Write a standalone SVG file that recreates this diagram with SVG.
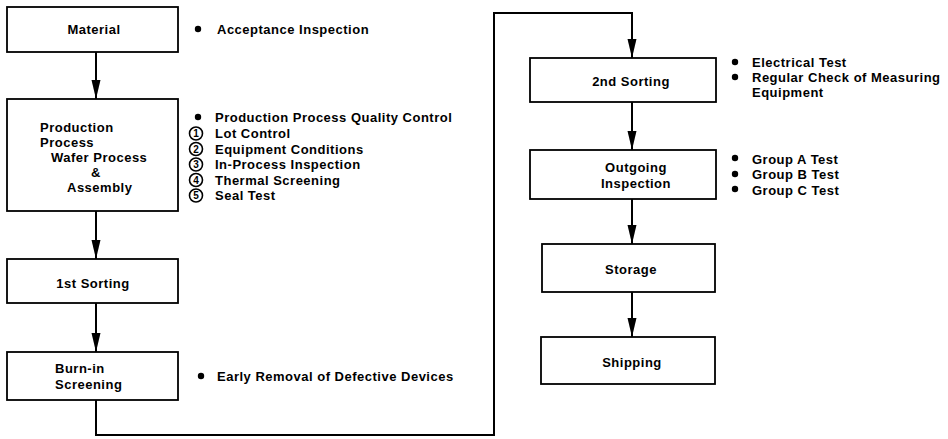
<svg xmlns="http://www.w3.org/2000/svg" width="948" height="439" viewBox="0 0 948 439">
<style>
.box{fill:#fff;stroke:#000;stroke-width:1.8}
text{font-family:"Liberation Sans",Arial,sans-serif;font-weight:bold;font-size:13px;letter-spacing:0.5px;fill:#000}
.c{text-anchor:middle}
.ring{fill:#fff;stroke:#000;stroke-width:1.6}
.num{font-size:10px;letter-spacing:0;text-anchor:middle}
.wire{fill:none;stroke:#000;stroke-width:2}
</style>
<defs>
<marker id="ah" markerUnits="userSpaceOnUse" markerWidth="20" markerHeight="10" viewBox="0 -5 20 10" refX="19" refY="0" orient="auto">
<path d="M0,-4.5 L19,0 L0,4.5 z" fill="#000"/>
</marker>
</defs>
<rect width="948" height="439" fill="#fff"/>
<g id="connectors">
<line class="wire" x1="96" y1="52" x2="96" y2="99" marker-end="url(#ah)"/>
<line class="wire" x1="96" y1="211" x2="96" y2="259" marker-end="url(#ah)"/>
<line class="wire" x1="96" y1="303" x2="96" y2="352" marker-end="url(#ah)"/>
<polyline class="wire" points="96,400 96,435 494,435 494,13 632,13 632,58" marker-end="url(#ah)"/>
<line class="wire" x1="632" y1="102" x2="632" y2="150" marker-end="url(#ah)"/>
<line class="wire" x1="632" y1="199" x2="632" y2="244" marker-end="url(#ah)"/>
<line class="wire" x1="632" y1="292" x2="632" y2="337" marker-end="url(#ah)"/>
</g>
<g id="material">
<rect class="box" x="7" y="7" width="171" height="45"/>
<text class="c" x="94" y="34">Material</text>
</g>
<g id="material-notes">
<circle cx="198" cy="29" r="3.2"/>
<text x="217" y="34">Acceptance Inspection</text>
</g>
<g id="production">
<rect class="box" x="7" y="99" width="171" height="112"/>
<text x="40" y="132">Production</text>
<text x="40" y="147">Process</text>
<text x="51" y="162">Wafer Process</text>
<text class="c" x="96" y="177">&amp;</text>
<text x="67" y="192">Assembly</text>
</g>
<g id="production-notes">
<circle cx="198" cy="117" r="3.2"/>
<text x="215" y="122">Production Process Quality Control</text>
<circle class="ring" cx="196" cy="133.5" r="6.5"/><text class="num" x="196" y="137">1</text>
<text x="215" y="138">Lot Control</text>
<circle class="ring" cx="196" cy="149" r="6.5"/><text class="num" x="196" y="152.5">2</text>
<text x="215" y="154">Equipment Conditions</text>
<circle class="ring" cx="196" cy="164.5" r="6.5"/><text class="num" x="196" y="168">3</text>
<text x="215" y="169">In-Process Inspection</text>
<circle class="ring" cx="196" cy="180" r="6.5"/><text class="num" x="196" y="183.5">4</text>
<text x="215" y="185">Thermal Screening</text>
<circle class="ring" cx="196" cy="195.5" r="6.5"/><text class="num" x="196" y="199">5</text>
<text x="215" y="200">Seal Test</text>
</g>
<g id="first-sorting">
<rect class="box" x="7" y="259" width="171" height="44"/>
<text class="c" x="93" y="288">1st Sorting</text>
</g>
<g id="burn-in">
<rect class="box" x="7" y="352" width="171" height="48"/>
<text x="55" y="373">Burn-in</text>
<text x="55" y="389">Screening</text>
</g>
<g id="burn-in-notes">
<circle cx="201" cy="376" r="3.2"/>
<text x="217" y="381">Early Removal of Defective Devices</text>
</g>
<g id="second-sorting">
<rect class="box" x="530" y="58" width="186" height="44"/>
<text class="c" x="631" y="86">2nd Sorting</text>
</g>
<g id="second-sorting-notes">
<circle cx="735" cy="62" r="3.2"/>
<text x="752" y="67">Electrical Test</text>
<circle cx="735" cy="77" r="3.2"/>
<text x="752" y="82">Regular Check of Measuring</text>
<text x="752" y="97">Equipment</text>
</g>
<g id="outgoing">
<rect class="box" x="530" y="150" width="186" height="49"/>
<text class="c" x="636" y="172">Outgoing</text>
<text class="c" x="636" y="188">Inspection</text>
</g>
<g id="outgoing-notes">
<circle cx="735" cy="158" r="3.2"/>
<text x="752" y="164">Group A Test</text>
<circle cx="735" cy="174" r="3.2"/>
<text x="752" y="179">Group B Test</text>
<circle cx="735" cy="189" r="3.2"/>
<text x="752" y="195">Group C Test</text>
</g>
<g id="storage">
<rect class="box" x="542" y="244" width="173" height="48"/>
<text class="c" x="631" y="274">Storage</text>
</g>
<g id="shipping">
<rect class="box" x="541" y="337" width="174" height="47"/>
<text class="c" x="632" y="367">Shipping</text>
</g>
</svg>
